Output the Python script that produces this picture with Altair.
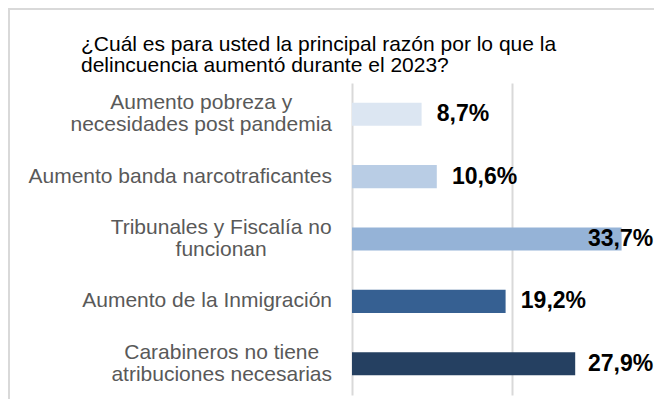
import altair as alt
import pandas as pd

# ---- data ----
categories = [
    "Aumento pobreza y\nnecesidades post pandemia",
    "Aumento banda narcotraficantes",
    "Tribunales y Fiscalía no\nfuncionan",
    "Aumento de la Inmigración",
    "Carabineros no tiene\natribuciones necesarias",
]
values = [8.7, 10.6, 33.7, 19.2, 27.9]
value_labels = ["8,7%", "10,6%", "33,7%", "19,2%", "27,9%"]
colors = ["#dce6f2", "#b9cde5", "#95b3d7", "#366092", "#254061"]
title_lines = [
    "¿Cuál es para usted la principal razón por lo que la",
    "delincuencia aumentó durante el 2023?",
]

# ---- layout helpers ----
X_MAX = 37.75
PLOT_W = 302
PLOT_H = 312
PX_PER_UNIT = PLOT_W / X_MAX
CAT_FONT = 21
CAT_LINE_H = 22
GAP_PX = 20

# Arial / Liberation Sans advance widths (per 1000 em)
AW = {" ": 278, "A": 667, "C": 722, "F": 611, "I": 278, "T": 611, "a": 556,
      "b": 556, "c": 500, "d": 556, "e": 556, "f": 278, "g": 556, "h": 556,
      "i": 222, "l": 222, "m": 833, "n": 556, "o": 556, "p": 556, "r": 333,
      "s": 500, "t": 278, "u": 556, "v": 500, "y": 500, "z": 500, "á": 556,
      "í": 278, "ó": 556}


def text_w(s, size):
    return sum(AW.get(ch, 556) for ch in s) * size / 1000.0


label_x = []
for c in categories:
    w = max(text_w(line, CAT_FONT) for line in c.split("\n"))
    label_x.append(-(GAP_PX + w / 2) / PX_PER_UNIT)

df = pd.DataFrame({
    "cat": categories,
    "value": values,
    "vlabel": value_labels,
    "label_x": label_x,
})

FONT = "Liberation Sans, Arial, sans-serif"

y_enc = alt.Y(
    "cat:N", sort=categories, axis=None,
    scale=alt.Scale(paddingInner=0.63, paddingOuter=0.315),
)

bars = alt.Chart(df).mark_bar().encode(
    x=alt.X(
        "value:Q",
        scale=alt.Scale(domain=[0, X_MAX], nice=False, zero=True),
        axis=alt.Axis(values=[0, 20], grid=True, gridColor="#d9d9d9",
                      gridWidth=2, labels=False, ticks=False, domain=False,
                      title=None),
    ),
    y=y_enc,
    color=alt.Color("cat:N", scale=alt.Scale(domain=categories, range=colors),
                    legend=None),
)

vals = alt.Chart(df).transform_calculate(
    lx="min(datum.value + 1.9, 29.5)"
).mark_text(
    align="left", baseline="middle", fontSize=23, fontWeight="bold",
    font=FONT, color="#000000",
).encode(
    x="lx:Q",
    y=y_enc,
    text="vlabel:N",
)

cat_base = alt.Chart(df).transform_calculate(
    nlines="length(split(datum.cat, '\\n'))"
)
cats_one = cat_base.transform_filter("datum.nlines == 1").mark_text(
    align="center", baseline="middle", lineBreak="\n", fontSize=CAT_FONT,
    lineHeight=CAT_LINE_H, font=FONT, color="#595959",
).encode(x="label_x:Q", y=y_enc, text="cat:N")
cats_two = cat_base.transform_filter("datum.nlines == 2").mark_text(
    align="center", baseline="middle", lineBreak="\n", fontSize=CAT_FONT,
    lineHeight=CAT_LINE_H, font=FONT, color="#595959", dy=-CAT_LINE_H / 2,
).encode(x="label_x:Q", y=y_enc, text="cat:N")

frame_v = alt.Chart(df).mark_rule(color="#d9d9d9", strokeWidth=2).encode(
    x=alt.value(-343), y=alt.value(-74), y2=alt.value(PLOT_H + 30),
)
frame_h = alt.Chart(df).mark_rule(color="#d9d9d9", strokeWidth=2).encode(
    x=alt.value(-344), x2=alt.value(PLOT_W), y=alt.value(-74),
)

chart = alt.layer(frame_v, frame_h, bars, vals, cats_one, cats_two).properties(
    width=PLOT_W,
    height=PLOT_H,
    autosize=alt.AutoSizeParams(type="none"),
    padding={"left": 344, "top": 75, "right": 0, "bottom": 4},
    title=alt.Title(
        text=title_lines, anchor="start", frame="group", dx=-271, dy=75,
        fontSize=21, font=FONT, fontWeight="normal", color="#000000",
        lineHeight=21, offset=7,
    ),
).configure_view(stroke=None)

chart.save("out.html", embed_options={"renderer": "svg", "actions": False})
